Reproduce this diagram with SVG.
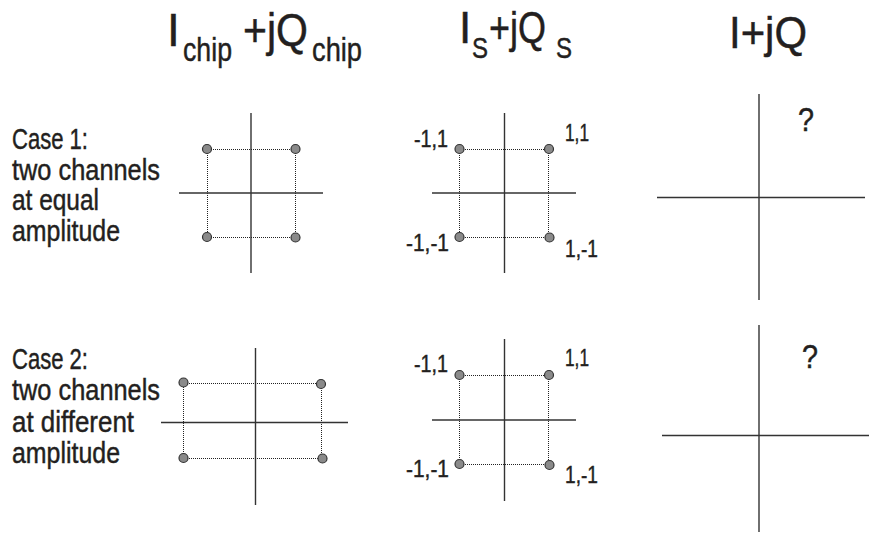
<svg xmlns="http://www.w3.org/2000/svg" width="871" height="537" viewBox="0 0 871 537">
<style>
text{font-family:"Liberation Sans Narrow","Liberation Sans",Arial,sans-serif;fill:#231f20;stroke:#231f20;stroke-width:0.45}
.ax{stroke:#333;stroke-width:1.4;fill:none}
.dot{stroke:#222;stroke-width:1;stroke-dasharray:1 1;fill:none}
.pt{fill:#8a8a8a;stroke:#333;stroke-width:1.2}
.t{font-size:46px}
.sub{font-size:33px}
.case{font-size:29px}
.lbl{font-size:24.5px}
.q{font-size:34px}
</style>
<rect width="871" height="537" fill="#fff"/>
<g id="titles">
<text class="t" x="167" y="46">I</text>
<text class="sub" x="183" y="61" textLength="49" lengthAdjust="spacingAndGlyphs">chip</text>
<text class="t" x="243" y="46" textLength="65" lengthAdjust="spacingAndGlyphs">+jQ</text>
<text class="sub" x="312" y="61" textLength="50" lengthAdjust="spacingAndGlyphs">chip</text>
<text class="t" x="459" y="43" style="font-size:44px">I</text>
<text x="472" y="58" style="font-size:30px" textLength="16" lengthAdjust="spacingAndGlyphs">S</text>
<text class="t" x="489" y="43" style="font-size:44px" textLength="57" lengthAdjust="spacingAndGlyphs">+jQ</text>
<text x="556" y="58" style="font-size:30px" textLength="16" lengthAdjust="spacingAndGlyphs">S</text>
<text class="t" x="729" y="48" style="font-size:45px" textLength="78" lengthAdjust="spacingAndGlyphs">I+jQ</text>
</g>
<g id="case1-label">
<text class="case" x="12" y="149" textLength="76" lengthAdjust="spacingAndGlyphs">Case 1:</text>
<text class="case" x="12" y="180" textLength="148" lengthAdjust="spacingAndGlyphs">two channels</text>
<text class="case" x="12" y="210" textLength="87" lengthAdjust="spacingAndGlyphs">at equal</text>
<text class="case" x="12" y="241" textLength="108" lengthAdjust="spacingAndGlyphs">amplitude</text>
</g>
<g id="case2-label">
<text class="case" x="12" y="369" textLength="76" lengthAdjust="spacingAndGlyphs">Case 2:</text>
<text class="case" x="12" y="400" textLength="148" lengthAdjust="spacingAndGlyphs">two channels</text>
<text class="case" x="12" y="432" textLength="122" lengthAdjust="spacingAndGlyphs">at different</text>
<text class="case" x="12" y="463" textLength="108" lengthAdjust="spacingAndGlyphs">amplitude</text>
</g>
<g id="c1-chip">
<line class="ax" x1="251" y1="113" x2="251" y2="273"/>
<line class="ax" x1="179" y1="193" x2="323" y2="193"/>
<line class="dot" x1="207" y1="149.5" x2="296" y2="149.5"/>
<line class="dot" x1="207" y1="237.5" x2="296" y2="237.5"/>
<line class="dot" x1="207.5" y1="149" x2="207.5" y2="238"/>
<line class="dot" x1="295.5" y1="149" x2="295.5" y2="238"/>
<circle class="pt" cx="207" cy="149" r="4.5"/>
<circle class="pt" cx="295.5" cy="149" r="4.5"/>
<circle class="pt" cx="207" cy="237" r="4.5"/>
<circle class="pt" cx="295.5" cy="237.5" r="4.5"/>
</g>
<g id="c1-s">
<line class="ax" x1="504.5" y1="113" x2="504.5" y2="273"/>
<line class="ax" x1="432" y1="193" x2="576" y2="193"/>
<line class="dot" x1="459" y1="149.5" x2="549" y2="149.5"/>
<line class="dot" x1="459" y1="237.5" x2="549" y2="237.5"/>
<line class="dot" x1="459.5" y1="149" x2="459.5" y2="238"/>
<line class="dot" x1="548.5" y1="149" x2="548.5" y2="238"/>
<circle class="pt" cx="459.5" cy="149" r="4.5"/>
<circle class="pt" cx="549" cy="149" r="4.5"/>
<circle class="pt" cx="459.5" cy="237" r="4.5"/>
<circle class="pt" cx="549.5" cy="237.5" r="4.5"/>
<text class="lbl" x="414" y="147" textLength="34" lengthAdjust="spacingAndGlyphs">-1,1</text>
<text class="lbl" x="565" y="141" textLength="24" lengthAdjust="spacingAndGlyphs">1,1</text>
<text class="lbl" x="406" y="251" textLength="43" lengthAdjust="spacingAndGlyphs">-1,-1</text>
<text class="lbl" x="565" y="257" textLength="33" lengthAdjust="spacingAndGlyphs">1,-1</text>
</g>
<g id="c1-iq">
<line class="ax" x1="759" y1="94" x2="759" y2="300"/>
<line class="ax" x1="657" y1="197.5" x2="865" y2="197.5"/>
<text class="q" x="798" y="131" textLength="16" lengthAdjust="spacingAndGlyphs">?</text>
</g>
<g id="c2-chip">
<line class="ax" x1="255.5" y1="348" x2="255.5" y2="505"/>
<line class="ax" x1="161" y1="422.5" x2="348" y2="422.5"/>
<line class="dot" x1="183" y1="383.5" x2="321" y2="383.5"/>
<line class="dot" x1="183" y1="458.5" x2="323" y2="458.5"/>
<line class="dot" x1="183.5" y1="383" x2="183.5" y2="458"/>
<line class="dot" x1="321.5" y1="384" x2="321.5" y2="459"/>
<circle class="pt" cx="183.5" cy="382.5" r="4.5"/>
<circle class="pt" cx="321" cy="384" r="4.5"/>
<circle class="pt" cx="183.5" cy="458" r="4.5"/>
<circle class="pt" cx="322.5" cy="458.5" r="4.5"/>
</g>
<g id="c2-s">
<line class="ax" x1="504.5" y1="339" x2="504.5" y2="501"/>
<line class="ax" x1="432" y1="420" x2="576" y2="420"/>
<line class="dot" x1="459" y1="375.5" x2="549" y2="375.5"/>
<line class="dot" x1="459" y1="464.5" x2="549" y2="464.5"/>
<line class="dot" x1="459.5" y1="375" x2="459.5" y2="465"/>
<line class="dot" x1="548.5" y1="375" x2="548.5" y2="465"/>
<circle class="pt" cx="459.5" cy="375" r="4.5"/>
<circle class="pt" cx="549" cy="375" r="4.5"/>
<circle class="pt" cx="459.5" cy="464" r="4.5"/>
<circle class="pt" cx="549.5" cy="465" r="4.5"/>
<text class="lbl" x="414" y="372" textLength="34" lengthAdjust="spacingAndGlyphs">-1,1</text>
<text class="lbl" x="565" y="366" textLength="24" lengthAdjust="spacingAndGlyphs">1,1</text>
<text class="lbl" x="406" y="477" textLength="43" lengthAdjust="spacingAndGlyphs">-1,-1</text>
<text class="lbl" x="565" y="483" textLength="33" lengthAdjust="spacingAndGlyphs">1,-1</text>
</g>
<g id="c2-iq">
<line class="ax" x1="759" y1="325" x2="759" y2="532"/>
<line class="ax" x1="662" y1="435.5" x2="869" y2="435.5"/>
<text class="q" x="802" y="368" textLength="16" lengthAdjust="spacingAndGlyphs">?</text>
</g>
</svg>
